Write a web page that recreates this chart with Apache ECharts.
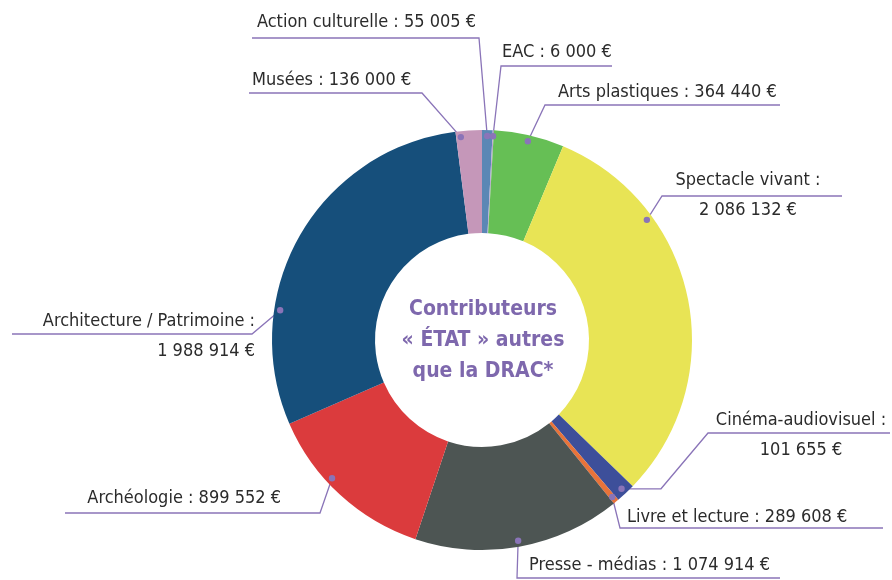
<!DOCTYPE html>
<html>
<head>
<meta charset="utf-8">
<script src="https://cdn.jsdelivr.net/npm/echarts@6/dist/echarts.min.js"></script>
<style>
  html, body { margin: 0; padding: 0; background: #fff; }
  #chart { width: 892px; height: 580px; }
</style>
</head>
<body>
<div id="chart"></div>
<script>
// catégories, dans l'ordre horaire depuis midi
const categories = ['Action culturelle', 'EAC', 'Arts plastiques', 'Spectacle vivant', 'Cinéma-audiovisuel',
  'Livre et lecture', 'Presse - médias', 'Archéologie', 'Architecture / Patrimoine', 'Musées'];
// montants affichés dans les étiquettes
const amountLabels = ['55 005 €', '6 000 €', '364 440 €', '2 086 132 €', '101 655 €',
  '289 608 €', '1 074 914 €', '899 552 €', '1 988 914 €', '136 000 €'];
// tailles des parts telles que dessinées (la part "Livre" est tracée ~10x plus petite que son étiquette)
const sliceValues = [55005, 6000, 364440, 2086132, 101655, 28961, 1074914, 899552, 1988914, 136000];
const colors = ['#5b87b5', '#b9a6cf', '#66bf55', '#e8e455', '#3d4f9a',
  '#e8733a', '#4d5553', '#db3b3d', '#164f7b', '#c597b9'];
const centerTitle = 'Contributeurs\n« ÉTAT » autres\nque la DRAC*';

// placement des étiquettes (texte, trait de rappel)
const placement = [
  { x: 476, y: 22, align: 'right', lineY: 38, elbowX: 479, endX: 252, at: 0.5 },
  { x: 502, y: 52, align: 'left', lineY: 66, elbowX: 501, endX: 612, at: 0.5 },
  { x: 558, y: 92, align: 'left', lineY: 105, elbowX: 545, endX: 780, at: 0.5 },
  { x: 748, y: 195, align: 'center', lineY: 196, elbowX: 662, endX: 842, at: 0.28, wrap: true },
  { x: 801, y: 435, align: 'center', lineY: 433, elbowX: 708, endX: 890, at: 0.5, wrap: true, kinkX: 661 },
  { x: 627, y: 517, align: 'left', lineY: 528, elbowX: 620, endX: 883, at: 0.5 },
  { x: 529, y: 565, align: 'left', lineY: 578, elbowX: 517, endX: 780, at: 0.5 },
  { x: 281, y: 498, align: 'right', lineY: 513, elbowX: 320, endX: 65, at: 0.6 },
  { x: 255, y: 336, align: 'right', lineY: 334, elbowX: 252, endX: 12, at: 0.3, wrap: true },
  { x: 252, y: 80, align: 'left', lineY: 93, elbowX: 422, endX: 249, at: 0.18 }
];

const lineColor = '#8a74b8';
const font = "'Liberation Sans Narrow', 'DejaVu Sans Condensed', sans-serif";

const chart = echarts.init(document.getElementById('chart'));

function anchorOf(idx) {
  const layout = chart.getModel().getSeriesByIndex(0).getData().getItemLayout(idx);
  const p = placement[idx];
  const a = layout.startAngle + (layout.endAngle - layout.startAngle) * p.at;
  const rr = layout.r - 6;
  return [layout.cx + rr * Math.cos(a), layout.cy + rr * Math.sin(a)];
}

const data = categories.map((name, i) => ({
  name: name,
  value: sliceValues[i],
  itemStyle: { color: colors[i] }
}));

const option = {
  animation: false,
  backgroundColor: '#fff',
  title: {
    text: centerTitle,
    left: 483,
    top: 341,
    textAlign: 'center',
    textVerticalAlign: 'middle',
    padding: 0,
    textStyle: {
      color: '#7e68ad',
      fontFamily: font,
      fontWeight: 'bold',
      fontSize: 21,
      lineHeight: 31
    }
  },
  series: [{
    type: 'pie',
    center: [482, 340],
    radius: [107, 210],
    startAngle: 90,
    clockwise: true,
    avoidLabelOverlap: false,
    silent: true,
    data: data,
    label: {
      show: true,
      position: 'outside',
      color: '#2b2b2b',
      fontFamily: font,
      fontSize: 18,
      lineHeight: 30,
      formatter: (p) => categories[p.dataIndex] + (placement[p.dataIndex].wrap ? ' :\n' : ' : ') + amountLabels[p.dataIndex]
    },
    labelLine: {
      show: true,
      lineStyle: { color: lineColor, width: 1.3 }
    },
    labelLayout: function (params) {
      const i = params.dataIndex;
      const p = placement[i];
      const anc = anchorOf(i);
      const pts = [anc];
      if (p.kinkX) pts.push([p.kinkX, anc[1]]);
      pts.push([p.elbowX, p.lineY]);
      pts.push([p.endX, p.lineY]);
      return {
        x: p.x,
        y: p.y,
        align: p.align,
        verticalAlign: 'middle',
        labelLinePoints: pts
      };
    }
  }]
};

chart.setOption(option);

// pastilles au départ des traits de rappel
const dots = sliceValues.map((v, i) => {
  const a = anchorOf(i);
  return {
    type: 'circle',
    shape: { cx: a[0], cy: a[1], r: 3.2 },
    style: { fill: lineColor },
    z: 100
  };
});
chart.setOption({ graphic: dots });
</script>
</body>
</html>
